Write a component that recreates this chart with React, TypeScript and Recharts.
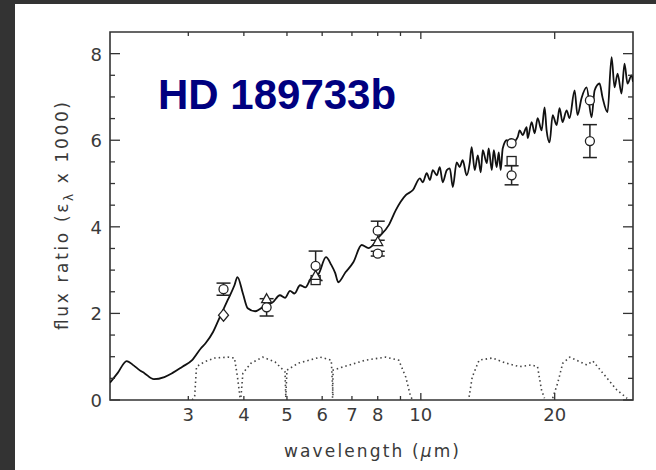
import React from "react";
import { ComposedChart, Line, Scatter, ErrorBar, XAxis, YAxis, ReferenceArea } from "recharts";

// model spectrum: [wavelength um, flux ratio x1000]
const modelSpectrum: number[][] = [
  [2.0, 0.4], [2.08, 0.62], [2.18, 0.9], [2.26, 0.8], [2.33, 0.69], [2.39, 0.62],
  [2.51, 0.48], [2.65, 0.53], [2.76, 0.62], [2.91, 0.77], [3.06, 0.92], [3.2, 1.19],
  [3.28, 1.31], [3.41, 1.57], [3.53, 1.91], [3.68, 2.31], [3.81, 2.65], [3.87, 2.84],
  [3.98, 2.46], [4.08, 2.12], [4.24, 2.05], [4.42, 2.15], [4.65, 2.26], [4.82, 2.42],
  [4.95, 2.36], [5.08, 2.52], [5.2, 2.46], [5.35, 2.65], [5.5, 2.6], [5.67, 2.82],
  [5.88, 2.9], [6.12, 3.3], [6.29, 3.12], [6.42, 2.93], [6.52, 2.72], [6.77, 2.95],
  [7.05, 3.18], [7.36, 3.58], [7.63, 3.51], [8.04, 3.76], [8.47, 4.04], [8.78, 4.38],
  [9.25, 4.73], [9.6, 4.85], [9.95, 5.12], [10.1, 5.03], [10.31, 5.24], [10.48, 5.08],
  [10.64, 5.31], [10.86, 5.19], [11.03, 5.38], [11.2, 5.03], [11.44, 5.31], [11.62, 5.35],
  [11.8, 4.92], [12.04, 5.49], [12.23, 5.38], [12.42, 5.54], [12.68, 5.19], [12.88, 5.47],
  [13.01, 5.84], [13.22, 5.31], [13.43, 5.65], [13.64, 5.26], [13.78, 5.77], [14.07, 5.47],
  [14.21, 5.81], [14.44, 5.31], [14.59, 5.77], [14.81, 5.38], [14.97, 5.72], [15.12, 5.31],
  [15.28, 5.81], [15.6, 6.0], [16.01, 5.93], [16.51, 6.07], [16.68, 6.23], [16.94, 6.12],
  [17.3, 6.3], [17.39, 6.05], [17.75, 6.42], [18.03, 6.16], [18.31, 6.51], [18.69, 6.23],
  [18.98, 6.76], [19.18, 6.23], [19.48, 5.95], [19.79, 6.58], [20.2, 6.35], [20.51, 6.74],
  [20.83, 6.42], [21.27, 6.69], [21.6, 6.51], [22.17, 7.15], [22.51, 6.58], [22.98, 6.97],
  [23.59, 7.22], [24.21, 6.53], [24.59, 7.15], [25.23, 7.31], [25.62, 6.99], [26.29, 6.65],
  [26.85, 7.92], [27.27, 7.22], [27.7, 7.54], [28.27, 7.08], [28.71, 7.77], [29.16, 7.31],
  [29.77, 7.5], [30.0, 7.35],
];

// filter response curves (scaled)
const irac36: number[][] = [[3.06, 0], [3.1, 0.07], [3.13, 0.77], [3.26, 0.88], [3.44, 0.97], [3.68, 0.99], [3.81, 0.97], [3.87, 0.53], [3.92, 0.07], [3.94, 0]];
const irac45: number[][] = [[3.94, 0.07], [3.98, 0.62], [4.15, 0.85], [4.41, 0.99], [4.7, 0.88], [4.95, 0.65], [4.97, 0.07]];
const irac58: number[][] = [[4.97, 0.07], [5.0, 0.69], [5.3, 0.85], [5.94, 0.99], [6.29, 0.92], [6.35, 0.05]];
const irac80: number[][] = [[6.33, 0.05], [6.35, 0.69], [6.76, 0.78], [7.51, 0.92], [8.34, 0.99], [8.92, 0.92], [9.25, 0.53], [9.49, 0.07], [9.6, 0]];
const irs16: number[][] = [[12.84, 0.07], [13.05, 0.53], [13.52, 0.92], [14.47, 0.97], [15.57, 0.85], [16.67, 0.77], [17.74, 0.81], [18.3, 0.77], [18.68, 0.23], [18.97, 0.04]];
const mips24: number[][] = [[19.79, 0.04], [20.31, 0.39], [20.85, 0.85], [21.62, 0.99], [23.62, 0.81], [24.37, 0.9], [25.67, 0.62], [27.6, 0.23], [29.1, 0.04]];

// observed eclipse depths: [wavelength, flux, error]
const observed: number[][] = [
  [3.6, 2.56, 0.14], [4.5, 2.14, 0.2], [5.8, 3.1, 0.34], [8.0, 3.91, 0.22],
  [8.0, 3.38, 0.055], [16, 5.19, 0.22], [24, 5.98, 0.38],
];
// band-integrated model points
const modelDiamonds: number[][] = [[3.6, 1.96]];
const modelTriangles: number[][] = [[4.5, 2.34], [5.8, 2.88], [8.0, 3.66]];
const modelSquares: number[][] = [[5.8, 2.77], [16, 5.52]];
const modelCircles: number[][] = [[16, 5.93], [24, 6.92]];

const xTicks = [3, 4, 5, 6, 7, 8, 9, 10, 20];
const xLabels = [3, 4, 5, 6, 7, 8, 10, 20];
const xMajor = [10, 20];
const yTicks = [0, 0.5, 1, 1.5, 2, 2.5, 3, 3.5, 4, 4.5, 5, 5.5, 6, 6.5, 7, 7.5, 8];
const yLabels = [0, 2, 4, 6, 8];

const W = 641;
const H = 466;
const X_AXIS_H = 30;
const Y_AXIS_W = 40;
const M = { top: 28, right: 23, bottom: 70 - X_AXIS_H, left: 95 - Y_AXIS_W };
const PW = 523;
const PH = 368;
const INK = "#333";

const toXY = (rows: number[][]) => rows.map((r) => ({ x: r[0], y: r[1] }));
const obsData = observed.map((r) => ({ x: r[0], y: r[1], err: r[2] }));

const XTick = (props: any) => {
  const { x, y, payload } = props;
  const v = payload.value;
  const len = xMajor.includes(v) ? 7 : 4;
  return (
    <g>
      <line x1={x} x2={x} y1={y} y2={y - len} stroke={INK} strokeWidth={1.3} />
      <line x1={x} x2={x} y1={y - PH} y2={y - PH + len} stroke={INK} strokeWidth={1.3} />
      {xLabels.includes(v) && (
        <text x={x} y={y + 21} textAnchor="middle" fontSize={18} fill="#3a3a3a" fontFamily="DejaVu Sans">
          {v}
        </text>
      )}
    </g>
  );
};

const YTick = (props: any) => {
  const { x, y, payload } = props;
  const v = payload.value;
  const len = yLabels.includes(v) ? 10 : 5;
  return (
    <g>
      <line x1={x} x2={x + len} y1={y} y2={y} stroke={INK} strokeWidth={1.3} />
      <line x1={x + PW} x2={x + PW - len} y1={y} y2={y} stroke={INK} strokeWidth={1.3} />
      {yLabels.includes(v) && (
        <text x={x - 8} y={y + 7} textAnchor="end" fontSize={18} fill="#3a3a3a" fontFamily="DejaVu Sans">
          {v}
        </text>
      )}
    </g>
  );
};

const circle = (p: any) => <circle cx={p.cx} cy={p.cy} r={4.5} fill="#fff" stroke="#222" strokeWidth={1.3} />;
const diamond = (p: any) => (
  <path d={`M${p.cx},${p.cy - 6}L${p.cx + 5},${p.cy}L${p.cx},${p.cy + 6}L${p.cx - 5},${p.cy}Z`} fill="#fff" stroke="#222" strokeWidth={1.3} />
);
const triangle = (p: any) => (
  <path d={`M${p.cx},${p.cy - 5}L${p.cx + 5},${p.cy + 4}L${p.cx - 5},${p.cy + 4}Z`} fill="#fff" stroke="#222" strokeWidth={1.3} />
);
const square = (p: any) => <rect x={p.cx - 4.5} y={p.cy - 4.5} width={9} height={9} fill="#fff" stroke="#222" strokeWidth={1.3} />;

const filterLine = (rows: number[][], key: string) => (
  <Line
    key={key}
    data={toXY(rows)}
    dataKey="y"
    type="linear"
    stroke="#444"
    strokeWidth={1.6}
    strokeDasharray="1.5 3"
    dot={false}
    isAnimationActive={false}
  />
);

export default function App() {
  return (
    <div style={{ position: "fixed", left: 0, top: 0, width: 656, height: 470, background: "#333" }}>
      <div style={{ position: "absolute", left: 15, top: 4, width: W, height: H, background: "#fff" }}>
        <ComposedChart width={W} height={H} margin={M}>
          <XAxis
            dataKey="x"
            type="number"
            scale="log"
            domain={[2, 30]}
            allowDataOverflow
            ticks={xTicks}
            interval={0}
            height={X_AXIS_H}
            tickSize={0}
            tickMargin={0}
            axisLine={false}
            tick={XTick}
          />
          <YAxis
            type="number"
            domain={[0, 8.5]}
            allowDataOverflow
            ticks={yTicks}
            interval={0}
            width={Y_AXIS_W}
            tickSize={0}
            tickMargin={0}
            axisLine={false}
            tick={YTick}
          />
          <ReferenceArea x1={2} x2={30} y1={0} y2={8.5} fill="none" stroke={INK} strokeWidth={1.6} fillOpacity={0} />
          {filterLine(irac36, "f1")}
          {filterLine(irac45, "f2")}
          {filterLine(irac58, "f3")}
          {filterLine(irac80, "f4")}
          {filterLine(irs16, "f5")}
          {filterLine(mips24, "f6")}
          <Line
            data={toXY(modelSpectrum)}
            dataKey="y"
            type="monotone"
            stroke="#111"
            strokeWidth={1.8}
            dot={false}
            isAnimationActive={false}
          />
          <Scatter data={toXY(modelSquares)} dataKey="y" shape={square} isAnimationActive={false} />
          <Scatter data={toXY(modelTriangles)} dataKey="y" shape={triangle} isAnimationActive={false} />
          <Scatter data={toXY(modelDiamonds)} dataKey="y" shape={diamond} isAnimationActive={false} />
          <Scatter data={toXY(modelCircles)} dataKey="y" shape={circle} isAnimationActive={false} />
          <Scatter data={obsData} dataKey="y" shape={circle} isAnimationActive={false}>
            <ErrorBar dataKey="err" direction="y" width={7} stroke="#222" strokeWidth={1.5} isAnimationActive={false} />
          </Scatter>
        </ComposedChart>
        <svg width={W} height={H} style={{ position: "absolute", left: 0, top: 0, pointerEvents: "none" }}>
          <text x={143} y={105} fontSize={42} fontWeight="bold" fill="#00007f" fontFamily="Liberation Sans">
            HD 189733b
          </text>
          <text
            transform={`translate(53, ${M.top + PH / 2}) rotate(-90)`}
            textAnchor="middle"
            fontSize={17}
            fill="#3a3a3a"
            fontFamily="DejaVu Sans"
            textLength={228}
            lengthAdjust="spacing"
          >
            flux ratio (ε<tspan fontSize={12} dy={5}>λ</tspan><tspan dy={-5}> x 1000)</tspan>
          </text>
          <text
            x={95 + PW / 2}
            y={453}
            textAnchor="middle"
            fontSize={17}
            fill="#3a3a3a"
            fontFamily="DejaVu Sans"
            textLength={175}
            lengthAdjust="spacing"
          >
            wavelength (<tspan fontStyle="italic">μ</tspan>m)
          </text>
        </svg>
      </div>
    </div>
  );
}
